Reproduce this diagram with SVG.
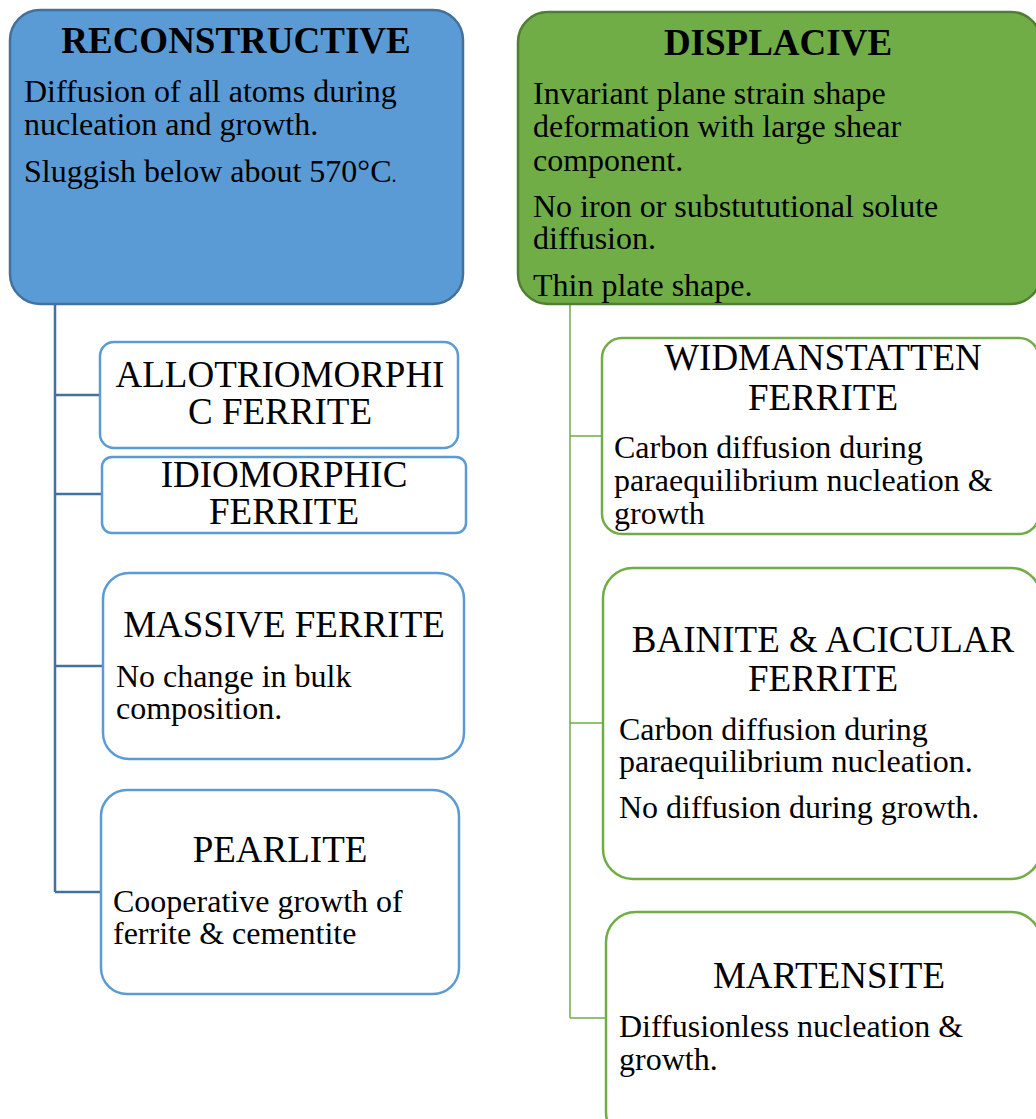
<svg xmlns="http://www.w3.org/2000/svg" width="1036" height="1119" viewBox="0 0 1036 1119">
  <style>
    text { font-family: "Liberation Serif", "Times New Roman", serif; fill: #000; }
    .head { font-size: 37px; font-weight: bold; text-anchor: middle; }
    .title { font-size: 37px; text-anchor: middle; }
    .body { font-size: 32px; }
    .blue-main { fill: #5B9BD5; stroke: #41719C; stroke-width: 2.5; }
    .green-main { fill: #70AD47; stroke: #507E32; stroke-width: 2.5; }
    .blue-box { fill: #FFFFFF; stroke: #5B9BD5; stroke-width: 2.5; }
    .green-box { fill: #FFFFFF; stroke: #70AD47; stroke-width: 2.5; }
    .blue-link { fill: none; stroke: #41719C; stroke-width: 2.5; }
    .green-link { fill: none; stroke: #70AD47; stroke-width: 1.5; }
  </style>

  <!-- tree connectors -->
  <g id="connectors">
    <path class="blue-link" d="M55,304 V892 M55,395 H100 M55,494 H102 M55,666 H103 M55,892 H101"/>
    <path class="green-link" d="M570,305 V1018 M570,436 H602 M570,723 H603 M570,1018 H606"/>
  </g>

  <!-- reconstructive branch -->
  <g id="reconstructive">
    <rect class="blue-main" x="10" y="10" width="453" height="294" rx="30" ry="30"/>
    <text class="head" x="236" y="53">RECONSTRUCTIVE</text>
    <text class="body" x="24" y="102">Diffusion of all atoms during</text>
    <text class="body" x="24" y="135">nucleation and growth.</text>
    <text class="body" x="24" y="182">Sluggish below about 570°C<tspan font-size="20">.</tspan></text>
  </g>

  <g id="allotriomorphic">
    <rect class="blue-box" x="100" y="342" width="358" height="106" rx="14" ry="14"/>
    <text class="title" x="280" y="387">ALLOTRIOMORPHI</text>
    <text class="title" x="280" y="424">C FERRITE</text>
  </g>

  <g id="idiomorphic">
    <rect class="blue-box" x="102" y="457" width="364" height="76" rx="10" ry="10"/>
    <text class="title" x="284" y="487">IDIOMORPHIC</text>
    <text class="title" x="284" y="524">FERRITE</text>
  </g>

  <g id="massive">
    <rect class="blue-box" x="103" y="573" width="361" height="186" rx="26" ry="26"/>
    <text class="title" x="284" y="637">MASSIVE FERRITE</text>
    <text class="body" x="116" y="687">No change in bulk</text>
    <text class="body" x="116" y="719">composition.</text>
  </g>

  <g id="pearlite">
    <rect class="blue-box" x="101" y="790" width="358" height="204" rx="26" ry="26"/>
    <text class="title" x="280" y="862">PEARLITE</text>
    <text class="body" x="113" y="912">Cooperative growth of</text>
    <text class="body" x="113" y="944">ferrite &amp; cementite</text>
  </g>

  <!-- displacive branch -->
  <g id="displacive">
    <rect class="green-main" x="518" y="12" width="523" height="292" rx="30" ry="30"/>
    <text class="head" x="778" y="55">DISPLACIVE</text>
    <text class="body" x="533" y="104">Invariant plane strain shape</text>
    <text class="body" x="533" y="137">deformation with large shear</text>
    <text class="body" x="533" y="171">component.</text>
    <text class="body" x="533" y="217">No iron or substututional solute</text>
    <text class="body" x="533" y="249">diffusion.</text>
    <text class="body" x="533" y="296">Thin plate shape.</text>
  </g>

  <g id="widmanstatten">
    <rect class="green-box" x="602" y="338" width="437" height="196" rx="20" ry="20"/>
    <text class="title" x="823" y="370">WIDMANSTATTEN</text>
    <text class="title" x="823" y="410">FERRITE</text>
    <text class="body" x="614" y="458">Carbon diffusion during</text>
    <text class="body" x="614" y="491">paraequilibrium nucleation &amp;</text>
    <text class="body" x="614" y="524">growth</text>
  </g>

  <g id="bainite">
    <rect class="green-box" x="603" y="568" width="438" height="311" rx="30" ry="30"/>
    <text class="title" x="823" y="652">BAINITE &amp; ACICULAR</text>
    <text class="title" x="823" y="691">FERRITE</text>
    <text class="body" x="619" y="740">Carbon diffusion during</text>
    <text class="body" x="619" y="772">paraequilibrium nucleation.</text>
    <text class="body" x="619" y="818">No diffusion during growth.</text>
  </g>

  <g id="martensite">
    <rect class="green-box" x="606" y="912" width="435" height="230" rx="30" ry="30"/>
    <text class="title" x="829" y="988">MARTENSITE</text>
    <text class="body" x="619" y="1037">Diffusionless nucleation &amp;</text>
    <text class="body" x="619" y="1070">growth.</text>
  </g>
</svg>
